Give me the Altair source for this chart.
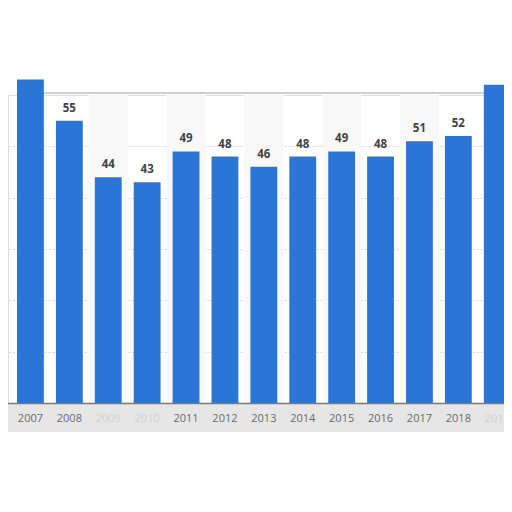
import altair as alt
import pandas as pd

years = ["2006", "2007", "2008", "2009", "2010", "2011", "2012", "2013",
         "2014", "2015", "2016", "2017", "2018", "2019"]
values = [58, 63, 55, 44, 43, 49, 48, 46, 48, 49, 48, 51, 52, 62]
labelled_years = ["2008", "2009", "2010", "2011", "2012", "2013", "2014",
                  "2015", "2016", "2017", "2018"]
striped_years = ["2009", "2011", "2013", "2015", "2017"]
faded_years = ["2009", "2010", "2019"]
grid_values = [10, 20, 30, 40, 50]

df = pd.DataFrame({"year": years, "value": values})
df["label"] = [str(v) if y in labelled_years else "" for y, v in zip(years, values)]
stripes = pd.DataFrame({"year": striped_years})

BLUE = "#2b75d7"

xscale = alt.Scale(domain=years, range=[-35.9, 508.7],
                   paddingInner=0.31, paddingOuter=0.155)
yscale = alt.Scale(domain=[0, 60], nice=False)

faded_expr = "indexof(" + str(faded_years) + ", datum.label) >= 0 ? '#d0d0d0' : '#6a6a6a'"

xenc = alt.X("year:N", scale=xscale, sort=years, title=None,
             axis=alt.Axis(labelAngle=0, ticks=False, labelPadding=15,
                           labelFontSize=11, labelFont="Open Sans",
                           labelColor=alt.ExprRef(faded_expr),
                           labelAlign="center", bandPosition=0.5,
                           domainColor="#7a7a7a", domainWidth=1.5,
                           grid=False, labelOverlap=False, zindex=2))
yenc = alt.Y("value:Q", scale=yscale, title=None,
             axis=alt.Axis(values=grid_values, labels=False, ticks=False,
                           domain=False, grid=True, gridDash=[2, 2],
                           gridColor="#d4d4d4", gridWidth=1))

stripe_layer = alt.Chart(stripes).mark_rule(color="#f8f8f8", strokeWidth=39).encode(
    x=alt.X("year:N", scale=xscale, sort=years),
    y=alt.datum(0),
    y2=alt.datum(60),
)

band_layer = alt.Chart(df).mark_rect(color="#e6e6e6").encode(
    x=alt.value(-8), x2=alt.value(504),
    y=alt.datum(-0.3), y2=alt.datum(-5.6),
)

top_line = alt.Chart(df).mark_rule(color="#cfcfcf", strokeWidth=2).encode(
    x=alt.datum("2007"), x2=alt.datum("2019"),
    y=alt.datum(60.4),
)

bars = alt.Chart(df).mark_bar(color=BLUE, clip=False).encode(x=xenc, y=yenc)

text = alt.Chart(df).mark_text(
    font="Open Sans", fontWeight="bold", fontSize=11.5, color="#444444",
    baseline="alphabetic", dy=-9,
).encode(
    x=alt.X("year:N", scale=xscale, sort=years),
    y=alt.Y("value:Q", scale=yscale),
    text="label:N",
)

chart = alt.layer(stripe_layer, band_layer, top_line, bars, text).properties(
    width=496, height=308,
    autosize=alt.AutoSizeParams(type="none"),
    padding={"top": 87, "left": 0, "right": 0, "bottom": 101},
).configure_view(stroke=None).configure(background="white")

chart.save("out.html", embed_options={"renderer": "svg", "actions": False})
